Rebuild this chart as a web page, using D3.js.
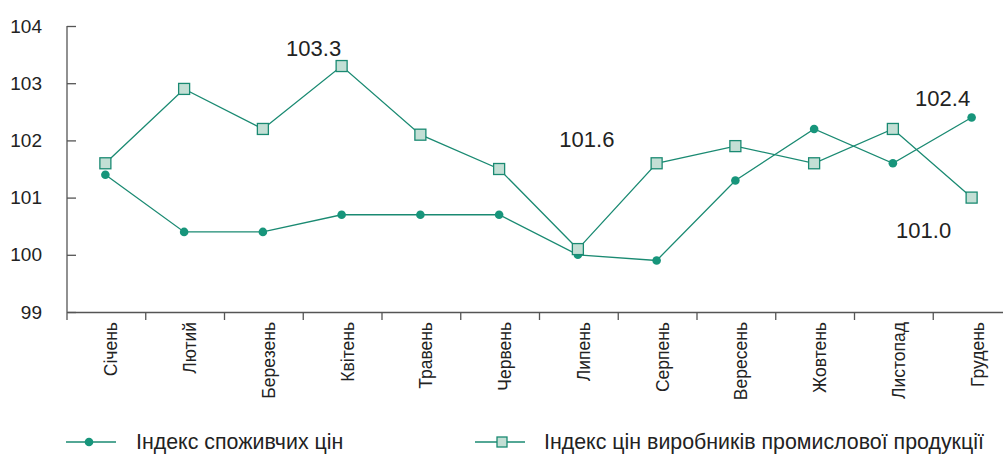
<!DOCTYPE html>
<html><head><meta charset="utf-8">
<script src="https://cdn.jsdelivr.net/npm/d3@7"></script>
<style>body{margin:0;background:#fff;}svg{display:block;font-family:"Liberation Sans",Arial,sans-serif;}</style>
</head><body><svg id="c" width="1003" height="454"></svg>
<script>
const months = ["Січень","Лютий","Березень","Квітень","Травень","Червень","Липень","Серпень","Вересень","Жовтень","Листопад","Грудень"];
const cpi = [101.4,100.4,100.4,100.7,100.7,100.7,100.0,99.9,101.3,102.2,101.6,102.4];
const ppi = [101.6,102.9,102.2,103.3,102.1,101.5,100.1,101.6,101.9,101.6,102.2,101.0];
const yTicks = [99,100,101,102,103,104];
const seriesNames = ["Індекс споживчих цін","Індекс цін виробників промислової продукції"];
const annotations = [
  {label:"103.3", month:3, value:103.3},
  {label:"101.6", month:6, value:101.6},
  {label:"102.4", month:11, value:102.4},
  {label:"101.0", month:11, value:101.0}
];
const annotOffsets = [[-28,-18],[9,-24],[-29,-19],[-48,33]];

const svg = d3.select("#c");
const mLeft = 67, mRight = 1012, mTop = 26, mBottom = 312;
const line = "#1a8a72", dotFill = "#17957b", sqFill = "#c3dfd5";

const x = d3.scaleBand().domain(months).range([mLeft, mRight]).padding(0);
const y = d3.scaleLinear().domain([99,104]).range([mBottom, mTop]);
const cx = m => x(m) + x.bandwidth()/2 - 1;

// y axis
const ya = svg.append("g").attr("transform",`translate(${mLeft},0)`)
  .call(d3.axisRight(y).tickValues(yTicks).tickSize(9).tickFormat(d3.format("d")));
ya.select(".domain").attr("stroke","#555").attr("stroke-width",1.3).attr("d",`M0,${mTop}V${mBottom}`);
ya.selectAll(".tick line").attr("stroke","#555").attr("stroke-width",1.3);
ya.selectAll(".tick text").attr("x",-25).attr("text-anchor","end").attr("font-size",19).attr("fill","#222")
  .attr("font-family","Liberation Sans, Arial, sans-serif");

// x axis
const xa = svg.append("g").attr("transform",`translate(0,${mBottom})`)
  .call(d3.axisBottom(x).tickSize(0).tickFormat(""));
xa.select(".domain").attr("stroke","#555").attr("stroke-width",1.3);
svg.append("g").selectAll("line").data(months).join("line")
  .attr("x1",d=>x(d)).attr("x2",d=>x(d)).attr("y1",mBottom).attr("y2",mBottom+8)
  .attr("stroke","#555").attr("stroke-width",1.3);
svg.append("g").selectAll("text").data(months).join("text")
  .attr("transform",d=>`translate(${cx(d)+12},${mBottom+10}) rotate(-90)`)
  .attr("text-anchor","end").attr("font-size",17.5).attr("fill","#222").text(d=>d);

// lines
const gen = d3.line().x((d,i)=>cx(months[i])).y(d=>y(d));
svg.append("path").attr("d",gen(ppi)).attr("fill","none").attr("stroke",line).attr("stroke-width",1.3);
svg.append("path").attr("d",gen(cpi)).attr("fill","none").attr("stroke",line).attr("stroke-width",1.3);

svg.append("g").selectAll("circle").data(cpi).join("circle")
  .attr("cx",(d,i)=>cx(months[i])).attr("cy",d=>y(d)).attr("r",4.3).attr("fill",dotFill);
svg.append("g").selectAll("rect").data(ppi).join("rect")
  .attr("x",(d,i)=>cx(months[i])-5.5).attr("y",d=>y(d)-5.5).attr("width",11).attr("height",11)
  .attr("fill",sqFill).attr("stroke",line).attr("stroke-width",1.3);

// annotations
svg.append("g").selectAll("text").data(annotations).join("text")
  .attr("x",(d,i)=>cx(months[d.month])+annotOffsets[i][0]).attr("y",(d,i)=>y(d.value)+annotOffsets[i][1]).attr("dy","0.35em")
  .attr("text-anchor","middle").attr("font-size",22).attr("fill","#222").text(d=>d.label);

// legend
const lg = svg.append("g");
const items = [{x:66, t:"c"},{x:475, t:"s"}];
items.forEach((it,i)=>{
  const g = lg.append("g").attr("transform",`translate(${it.x},442)`);
  g.append("line").attr("x1",0).attr("x2",50).attr("y1",0).attr("y2",0).attr("stroke",line).attr("stroke-width",1.5);
  if(it.t==="c") g.append("circle").attr("cx",23).attr("cy",0).attr("r",4.3).attr("fill",dotFill);
  else g.append("rect").attr("x",22).attr("y",-5).attr("width",10).attr("height",10).attr("fill",sqFill).attr("stroke",line).attr("stroke-width",1.3);
  g.append("g").attr("transform",`translate(${i===0?70:69},0) scale(0.93,1)`)
    .append("text").attr("y",7).attr("font-size",23).attr("fill","#222").text(seriesNames[i]);
});
</script></body></html>
